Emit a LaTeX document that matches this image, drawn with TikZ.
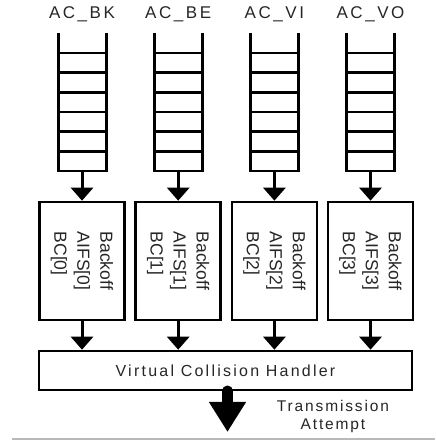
\documentclass[tikz,border=0pt]{standalone}
\usepackage{fontspec}
\setmainfont{Liberation Sans}
\usetikzlibrary{arrows.meta}
\tikzset{
  rail/.style={line width=3pt},
  rung/.style={line width=2.5pt},
  bbox/.style={draw, line width=2.6pt, inner sep=0pt},
  sarrow/.style={line width=3pt, -{Triangle[width=22pt,length=13pt]}},
  bigarrow/.style={line width=11pt, line cap=round, -{Triangle[width=35pt,length=30pt]}},
  aclabel/.style={text=black!85, font=\fontsize{17}{20}\selectfont\addfontfeature{LetterSpace=15}},
  boxtext/.style={align=left, text=black!85, font=\fontsize{17.5}{23}\selectfont},
}
\newcommand{\qladder}[1]{%
  \draw[rail] (#1-24,410) -- (#1-24,270.7);
  \draw[rail] (#1+24,410) -- (#1+24,270.7);
  \draw[rung] (#1-24,390) -- (#1+24,390) (#1-24,370.3) -- (#1+24,370.3)
     (#1-24,350.7) -- (#1+24,350.7) (#1-24,331) -- (#1+24,331)
     (#1-24,311.3) -- (#1+24,311.3) (#1-24,291.7) -- (#1+24,291.7)
     (#1-24,272) -- (#1+24,272);
}
\begin{document}
\begin{tikzpicture}[x=1pt,y=1pt]
\useasboundingbox (0,0) rectangle (435,443);
\node[aclabel] (lab0) at (82,429) {AC\_BK};
\node[aclabel] (lab1) at (178.2,429) {AC\_BE};
\node[aclabel] (lab2) at (274.4,429) {AC\_VI};
\node[aclabel] (lab3) at (370.5,429) {AC\_VO};
\qladder{82}
\qladder{178.2}
\qladder{274.4}
\qladder{370.5}
\coordinate (q0) at (82,272);
\coordinate (q1) at (178.2,272);
\coordinate (q2) at (274.4,272);
\coordinate (q3) at (370.5,272);
\node[bbox, minimum width=85pt, minimum height=118pt] (b0) at (82,182) {};
\node[bbox, minimum width=85pt, minimum height=118pt] (b1) at (178.2,182) {};
\node[bbox, minimum width=85pt, minimum height=118pt] (b2) at (274.4,182) {};
\node[bbox, minimum width=85pt, minimum height=118pt] (b3) at (370.5,182) {};
\node[boxtext] (t0) at (b0.center) {\rotatebox{-90}{\begin{tabular}{@{}l@{}}Backoff\\AIFS[0]\\BC[0]\end{tabular}}};
\node[boxtext] (t1) at (b1.center) {\rotatebox{-90}{\begin{tabular}{@{}l@{}}Backoff\\AIFS[1]\\BC[1]\end{tabular}}};
\node[boxtext] (t2) at (b2.center) {\rotatebox{-90}{\begin{tabular}{@{}l@{}}Backoff\\AIFS[2]\\BC[2]\end{tabular}}};
\node[boxtext] (t3) at (b3.center) {\rotatebox{-90}{\begin{tabular}{@{}l@{}}Backoff\\AIFS[3]\\BC[3]\end{tabular}}};
\node[bbox, minimum width=373pt, minimum height=39pt, text=black!85,
  font=\fontsize{16}{19}\selectfont\addfontfeature{LetterSpace=14}] (vch) at (225.5,72.5) {Virtual Collision Handler};
\draw[sarrow] (q0) -- (b0.north);
\draw[sarrow] (q1) -- (b1.north);
\draw[sarrow] (q2) -- (b2.north);
\draw[sarrow] (q3) -- (b3.north);
\draw[sarrow] (b0.south) -- (b0.south |- vch.north);
\draw[sarrow] (b1.south) -- (b1.south |- vch.north);
\draw[sarrow] (b2.south) -- (b2.south |- vch.north);
\draw[sarrow] (b3.south) -- (b3.south |- vch.north);
\coordinate (ts) at (227.5,52);
\coordinate (te) at (227.5,11);
\draw[bigarrow] (ts) -- (te);
\node[align=center, text=black!85, font=\fontsize{15.5}{18}\selectfont\addfontfeature{LetterSpace=12}] (tx) at (333,27) {Transmission\\Attempt};
\draw[gray!55, line width=2pt] (12,3.5) -- (435,3.5);
\end{tikzpicture}
\end{document}
